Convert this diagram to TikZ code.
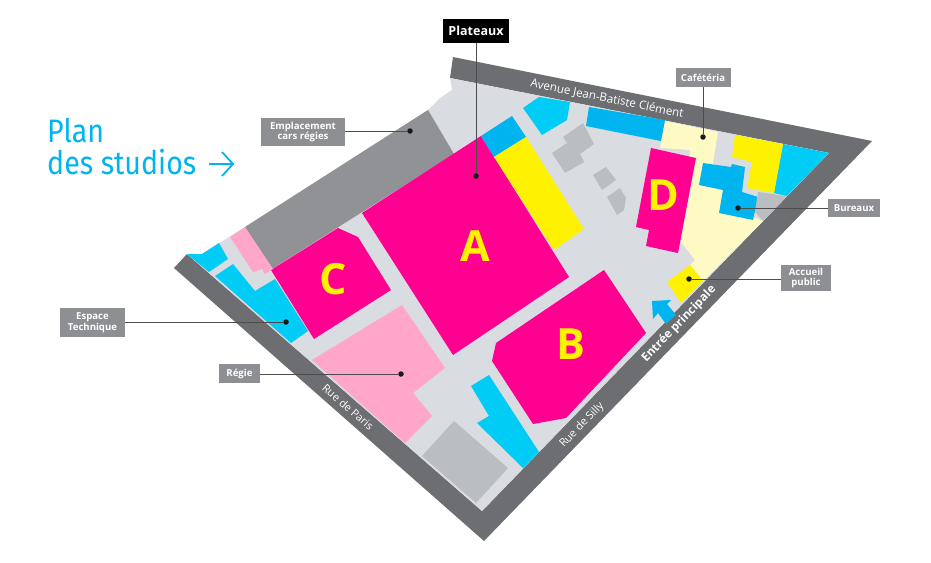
\documentclass[tikz,border=0pt]{standalone}
\usepackage{fontspec}
\setmainfont{Open Sans}
\newfontfamily\titlefont[FakeStretch=0.88]{Fira Sans}
\definecolor{cmag}{HTML}{FF0090}
\definecolor{cyel}{HTML}{FFF200}
\definecolor{ccya}{HTML}{00CCF5}
\definecolor{cblu}{HTML}{00B4EF}
\definecolor{clot}{HTML}{D9DCE1}
\definecolor{croad}{HTML}{6D6E71}
\definecolor{csil}{HTML}{BBBEC0}
\definecolor{cpin}{HTML}{FFA6C9}
\definecolor{ccre}{HTML}{FFFAC4}
\definecolor{cpar}{HTML}{909295}
\definecolor{clab}{HTML}{8D8F93}
\tikzset{
  tag/.style={fill=clab,text=white,font=\bfseries\fontsize{9.6}{10.5}\selectfont,align=center,inner sep=0pt,anchor=center},
  leader/.style={draw=black!70,line width=0.9pt},
  dotm/.style={circle,fill=black!90,inner sep=0pt,minimum size=5.5pt},
  roadtext/.style={text=white,font=\fontsize{11}{13}\selectfont,inner sep=0pt},
  letter/.style={text=cyel,font=\bfseries\fontsize{43}{43}\selectfont,inner sep=0pt},
  titletext/.style={text=cblu,font=\titlefont\fontsize{32.5}{32}\selectfont,inner sep=0pt,anchor=base west},
}
\begin{document}
\begin{tikzpicture}[x=1pt,y=-1pt]
\path[use as bounding box,fill=white] (0,0) rectangle (931,562);
% road and lot
\fill[croad] (453,57) -- (872,141) -- (484,541) -- (174,268) -- (187,254) -- (482,511) -- (829,153) -- (450,78) -- cycle;
\fill[clot] (450,78) -- (829,153) -- (482,511) -- (187,254) -- (202,254) -- (245,227) -- (428,110) -- (440,98) -- (452,90) -- cycle;
% parking
\fill[cpar] (245,227) -- (428,110) -- (454,154) -- (272,269) -- cycle;
% cream cafeteria
\fill[ccre] (665,121) -- (718,132) -- (713,163) -- (725,175) -- (755,218) -- (763,221) -- (703,281) -- (690,265) -- (695,260) -- (681,242) -- (690,150) -- (660,148) -- cycle;
% plateaux
\fill[cmag] (362,213) -- (481,136) -- (569,277) -- (453,355) -- cycle;
\fill[cmag] (604,270) -- (646,333) -- (566,418) -- (533,424) -- (492,361) -- (496,343) -- cycle;
\fill[cmag] (271,270) -- (338,228) -- (358,237) -- (391,290) -- (314,339) -- cycle;
\fill[cmag] (651,148) -- (696,158) -- (678,253) -- (646,246) -- (649,230) -- (636,227) -- cycle;
% blue
\fill[cblu] (481,136) -- (512,116) -- (526,137) -- (494,157) -- cycle;
\fill[cblu] (589,107) -- (665,120) -- (661,141) -- (586,126) -- cycle;
\fill[cblu] (703,163) -- (731,167) -- (732,164) -- (745,167) -- (742,192) -- (758,197) -- (753,220) -- (719,213) -- (723,190) -- (699,185) -- cycle;
\fill[cblu] (652,301) -- (671,300) -- (667,304) -- (676,315) -- (666,324) -- (658,313) -- (653,319) -- cycle;
% cyan
\fill[ccya] (523,108) -- (539,97) -- (570,102) -- (567,120) -- (542,135) -- cycle;
\fill[ccya] (783,144) -- (829,153) -- (787,196) -- (774,193) -- cycle;
\fill[ccya] (489,375) -- (539,452) -- (523,468) -- (477,423) -- (489,416) -- (471,386) -- cycle;
\fill[ccya] (215,276) -- (233,264) -- (255,291) -- (275,279) -- (308,331) -- (291,343) -- cycle;
\fill[ccya] (187,254) -- (202,254) -- (219,243) -- (228,259) -- (209,272) -- cycle;
% yellow
\fill[cyel] (494,157) -- (526,137) -- (584,229) -- (554,250) -- cycle;
\fill[cyel] (735,135) -- (783,144) -- (774,193) -- (747,188) -- (752,162) -- (732,157) -- cycle;
\fill[cyel] (690,265) -- (703,281) -- (681,303) -- (667,282) -- cycle;
% silver
\fill[csil] (563,137) -- (583,123) -- (594,144) -- (580,154) -- (584,162) -- (565,173) -- (552,153) -- (567,143) -- cycle;
\fill[csil] (593,175) -- (606,167) -- (616,180) -- (602,190) -- cycle;
\fill[csil] (607,197) -- (620,188) -- (626,198) -- (624,210) -- (617,215) -- cycle;
\fill[csil] (758,192) -- (787,196) -- (763,221) -- (755,212) -- cycle;
\fill[csil] (454,421) -- (508,468) -- (476,503) -- (422,456) -- cycle;
% pink
\fill[cpin] (402,305) -- (445,368) -- (413,393) -- (432,416) -- (405,443) -- (312,360) -- cycle;
\fill[cpin] (230,237) -- (245,227) -- (273,269) -- (265,274) -- (262,269) -- (253,272) -- cycle;
% big letters
\node[letter] (la) at (475,246) {A};
\node[letter] (lb) at (571,344) {B};
\node[letter] (lc) at (333,279) {C};
\node[letter] (ld) at (663,195) {D};
% road labels
\node[roadtext,rotate=-11.5,font=\fontsize{11.6}{13}\selectfont] (av) at (607,99) {Avenue Jean-Batiste Clément};
\node[roadtext,rotate=-41] (rp) at (348,407) {Rue de Paris};
\node[roadtext,rotate=46] (rs) at (582,425) {Rue de Silly};
\node[roadtext,rotate=46,font=\bfseries\fontsize{11.8}{13}\selectfont] (ep) at (679,324) {Entrée principale};
% callouts
\node[tag,minimum width=66pt,minimum height=24pt,fill=black,font=\bfseries\fontsize{12.5}{13}\selectfont] (tpl) at (476,31) {Plateaux};
\node[tag,minimum width=55pt,minimum height=19pt] (tca) at (703,77.5) {Cafétéria};
\node[tag,minimum width=52pt,minimum height=18pt] (tbu) at (854,208) {Bureaux};
\node[tag,minimum width=50pt,minimum height=26pt] (tac) at (806,278) {Accueil\\public};
\node[tag,minimum width=84pt,minimum height=28pt] (tem) at (303,132) {Emplacement\\cars régies};
\node[tag,minimum width=65pt,minimum height=29pt] (tes) at (92.5,322.5) {Espace\\Technique};
\node[tag,minimum width=41pt,minimum height=19pt] (tre) at (239.5,373.5) {Régie};
\node[dotm] (dpl) at (476,176) {};
\node[dotm] (dca) at (703,137) {};
\node[dotm] (dbu) at (738,208) {};
\node[dotm] (dac) at (689,279) {};
\node[dotm] (dem) at (410,131) {};
\node[dotm] (des) at (286,322) {};
\node[dotm] (dre) at (401,374) {};
\draw[leader] (tpl.south) -- (dpl);
\draw[leader] (tca.south) -- (dca);
\draw[leader] (tbu.west) -- (dbu);
\draw[leader] (tac.west |- dac) -- (dac);
\draw[leader] (tem.east |- dem) -- (dem);
\draw[leader] (tes.east |- des) -- (des);
\draw[leader] (tre.east |- dre) -- (dre);
% title
\node[titletext] (t1) at (47,142) {Plan};
\node[titletext] (t2) at (47,174) {des studios};
\coordinate (ar1) at (209,164);
\coordinate (ar2) at (233,164);
\draw[cblu,line width=1.8pt] (ar1) -- (ar2);
\draw[cblu,line width=1.8pt] (222,152) -- (ar2) -- (222,176);
\end{tikzpicture}
\end{document}
